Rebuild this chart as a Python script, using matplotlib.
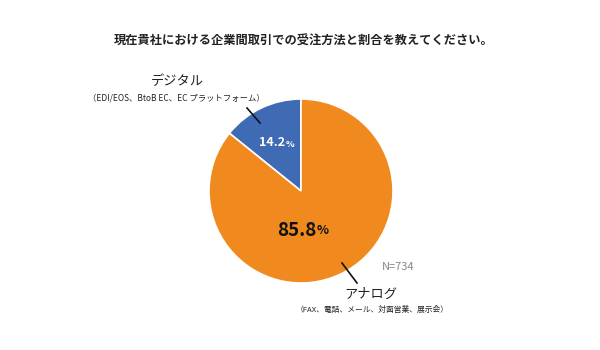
import matplotlib
matplotlib.use("Agg")
import matplotlib.pyplot as plt

plt.rcParams['font.family'] = ['Noto Sans CJK JP', 'DejaVu Sans']

title = "現在貴社における企業間取引での受注方法と割合を教えてください。"
labels = ["デジタル", "アナログ"]
sublabels = ["（EDI/EOS、BtoB EC、EC プラットフォーム）", "（FAX、電話、メール、対面営業、展示会）"]
values = [14.2, 85.8]
colors = ["#3E6BB4", "#F08A1E"]
n_label = "N=734"

W, H = 600, 350
fig = plt.figure(figsize=(6, 3.5), dpi=100)
fig.patch.set_facecolor("white")

def fx(x):
    return x / W

def fy(y):
    return 1 - y / H

cx, cy, r = 301, 191, 92
ax = fig.add_axes([fx(cx - r), fy(cy + r), 2 * r / W, 2 * r / H])
wedges, _ = ax.pie(values, colors=colors, startangle=90, counterclock=True,
                   wedgeprops=dict(edgecolor="white", linewidth=1.2), radius=1)
ax.set_xlim(-1, 1)
ax.set_ylim(-1, 1)
ax.set_aspect("auto")
ax.axis("off")

fig.text(fx(304), fy(41), title, ha="center", va="center", fontsize=8.8, fontweight="bold", color="#222222")

# Percent labels
fig.text(fx(285), fy(143), f"{values[0]:.1f}", ha="right", va="center", fontsize=9,
         fontweight="bold", color="white")
fig.text(fx(286), fy(144), "%", ha="left", va="center", fontsize=6.5, fontweight="bold", color="white")
fig.text(fx(317), fy(230), f"{values[1]:.1f}", ha="right", va="center", fontsize=13.5,
         fontweight="bold", color="#111111")
fig.text(fx(317), fy(231), "%", ha="left", va="center", fontsize=9, fontweight="bold", color="#111111")

# Category labels
fig.text(fx(177), fy(81), labels[0], ha="center", va="center", fontsize=9.5, color="#222222")
fig.text(fx(176), fy(98), sublabels[0], ha="center", va="center", fontsize=6, color="#222222")
fig.text(fx(371), fy(294), labels[1], ha="center", va="center", fontsize=9.5, color="#222222")
fig.text(fx(372), fy(310), sublabels[1], ha="center", va="center", fontsize=5.6, color="#222222")

fig.text(fx(382), fy(267), n_label, ha="left", va="center", fontsize=8, color="#888888")

# Leader lines
fig.add_artist(plt.Line2D([fx(247), fx(260)], [fy(108), fy(123)], color="#111111", linewidth=1.2))
fig.add_artist(plt.Line2D([fx(342), fx(357)], [fy(263), fy(283)], color="#111111", linewidth=1.2))

fig.savefig("out.png", dpi=100, facecolor="white")
